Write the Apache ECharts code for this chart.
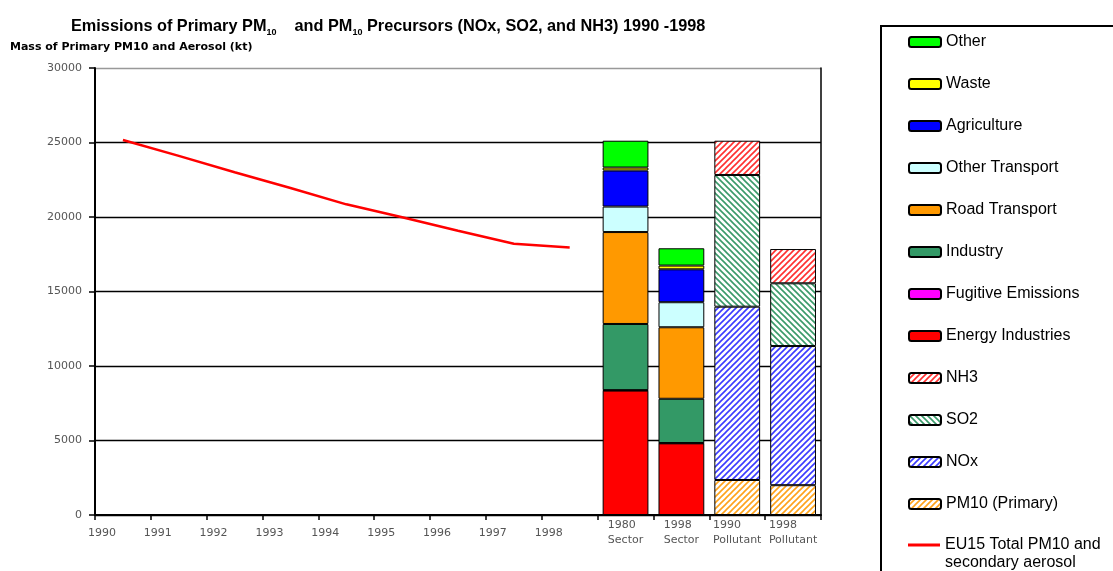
<!DOCTYPE html>
<html><head><meta charset="utf-8">
<script src="https://cdn.jsdelivr.net/npm/echarts/dist/echarts.min.js"></script>
<style>html,body{margin:0;padding:0;background:#fff}#c{width:1113px;height:571px}</style>
</head><body><div id="c"></div>
<script>
// ---------- data ----------
const categories = ['1990','1991','1992','1993','1994','1995','1996','1997','1998',
  '1980\nSector','1998\nSector','1990\nPollutant','1998\nPollutant'];
const yTicks = [0, 5000, 10000, 15000, 20000, 25000, 30000];
// EU15 total PM10 and secondary aerosol, 1990..1998 (kt)
const totalLine = [25170, 24100, 23000, 21950, 20850, 19980, 19080, 18200, 17950];
// Sector bars: [1990 Sector, 1998 Sector]
const energyIndustries = [8350, 4810];
const fugitiveEmissions = [30, 20];
const industry = [4440, 2970];
const roadTransport = [6170, 4800];
const otherTransport = [1710, 1680];
const agriculture = [2420, 2210];
const waste = [200, 250];
const other = [1800, 1160];
// Pollutant bars: [1990 Pollutant, 1998 Pollutant]
const pm10Primary = [2350, 2000];
const nox = [11630, 9340];
const so2 = [8840, 4210];
const nh3 = [2300, 2300];

const lineName = 'EU15 Total PM10 and secondary aerosol';

// place two values at the given category offset
function place(vals, offset) {
  return categories.map((c, i) => (i >= offset && i < offset + vals.length) ? vals[i - offset] : null);
}
function hatch(color, dir) {
  const s = 6, c = document.createElement('canvas');
  c.width = s; c.height = s;
  const g = c.getContext('2d');
  g.fillStyle = '#fff'; g.fillRect(0, 0, s, s);
  g.strokeStyle = color; g.lineWidth = 1.6; g.beginPath();
  if (dir === '/') {
    g.moveTo(-1, s + 1); g.lineTo(s + 1, -1);
    g.moveTo(-1, 1); g.lineTo(1, -1);
    g.moveTo(s - 1, s + 1); g.lineTo(s + 1, s - 1);
  } else {
    g.moveTo(-1, -1); g.lineTo(s + 1, s + 1);
    g.moveTo(s - 1, -1); g.lineTo(s + 1, 1);
    g.moveTo(-1, s - 1); g.lineTo(1, s + 1);
  }
  g.stroke();
  return { image: c, repeat: 'repeat' };
}

const SECTOR = 9, POLL = 11;
const barDefs = [
  ['Energy Industries', energyIndustries, SECTOR, '#ff0000'],
  ['Fugitive Emissions', fugitiveEmissions, SECTOR, '#ff00ff'],
  ['Industry', industry, SECTOR, '#339966'],
  ['Road Transport', roadTransport, SECTOR, '#ff9900'],
  ['Other Transport', otherTransport, SECTOR, '#ccffff'],
  ['Agriculture', agriculture, SECTOR, '#0000ff'],
  ['Waste', waste, SECTOR, '#ffff00'],
  ['Other', other, SECTOR, '#00ff00'],
  ['PM10 (Primary)', pm10Primary, POLL, hatch('#ffa31a', '/')],
  ['NOx', nox, POLL, hatch('#3b3bff', '/')],
  ['SO2', so2, POLL, hatch('#3a9a6a', '\\')],
  ['NH3', nh3, POLL, hatch('#ff3030', '/')]
];

const series = barDefs.map(d => ({
  name: d[0], type: 'bar', stack: 'total', barCategoryGap: '18%',
  data: place(d[1], d[2]),
  itemStyle: { color: d[3], borderColor: '#000', borderWidth: 1 },
  emphasis: { disabled: true }
}));
series.push({
  name: lineName, type: 'line', data: place(totalLine, 0), symbol: 'none',
  lineStyle: { color: '#ff0000', width: 2.5 }, itemStyle: { color: '#ff0000' },
  z: 5, emphasis: { disabled: true }
});

const font = 'DejaVu Sans';
const legendFont = { fontFamily: 'Liberation Sans', fontSize: 16, color: '#000', lineHeight: 18 };
const chart = echarts.init(document.getElementById('c'), null, { renderer: 'canvas' });
chart.setOption({
  animation: false,
  backgroundColor: '#fff',
  title: [{
    text: '{t|Emissions of Primary PM}{s|10}{t|    and PM}{s|10}{t| Precursors (NOx, SO2, and NH3) 1990 -1998}',
    left: 71, top: 17, padding: 0,
    textStyle: { rich: {
      t: { fontFamily: 'Liberation Sans', fontSize: 16.3, fontWeight: 'bold', color: '#000', lineHeight: 20 },
      s: { fontFamily: 'Liberation Sans', fontSize: 9, fontWeight: 'bold', color: '#000', lineHeight: 12, verticalAlign: 'bottom' }
    } }
  }, {
    text: 'Mass of Primary PM10 and Aerosol (kt)', left: 10, top: 42, padding: 0,
    textStyle: { fontFamily: font, fontSize: 11, fontWeight: 'bold', color: '#000' }
  }],
  legend: [{
    orient: 'vertical', left: 908, top: 33, padding: 0, height: 700,
    itemWidth: 32, itemHeight: 10, itemGap: 24, selectedMode: false,
    textStyle: legendFont,
    data: ['Other', 'Waste', 'Agriculture', 'Other Transport', 'Road Transport', 'Industry',
      'Fugitive Emissions', 'Energy Industries', 'NH3', 'SO2', 'NOx', 'PM10 (Primary)']
  }, {
    orient: 'vertical', left: 908, top: 518, padding: 0, height: 200,
    itemWidth: 32, itemHeight: 3, icon: 'rect', selectedMode: false,
    textStyle: legendFont,
    formatter: () => ' \nEU15 Total PM10 and\nsecondary aerosol',
    data: [{ name: lineName, itemStyle: { color: '#ff0000', borderWidth: 0 } }]
  }],
  graphic: [{
    type: 'rect', silent: true,
    shape: { x: 881, y: 26, width: 300, height: 600 },
    style: { fill: 'none', stroke: '#000', lineWidth: 2 }
  }],
  grid: { left: 95, right: 292, top: 68, bottom: 56 },
  xAxis: {
    type: 'category', data: categories, boundaryGap: true,
    axisLine: { lineStyle: { color: '#000', width: 2 } },
    axisTick: { show: true, interval: 0, length: 5, lineStyle: { color: '#000', width: 1.5 } },
    axisLabel: {
      interval: 0, margin: 3, hideOverlap: false,
      formatter: v => v.indexOf('\n') < 0 ? '{y|' + v + '}' : v.split('\n').map(s => '{b|' + s + '}').join('\n'),
      rich: {
        y: { fontFamily: font, fontSize: 11, color: '#555', lineHeight: 15, padding: [15, 42, 0, 0] },
        b: { fontFamily: font, fontSize: 11, color: '#555', lineHeight: 15, align: 'left' }
      }
    }
  },
  yAxis: [{
    type: 'value', min: yTicks[0], max: yTicks[yTicks.length - 1], interval: yTicks[1] - yTicks[0],
    axisLine: { show: true, lineStyle: { color: '#000', width: 2 } },
    axisTick: { show: true, length: 6, lineStyle: { color: '#000', width: 1.5 } },
    axisLabel: { margin: 13, fontFamily: font, fontSize: 11, color: '#555', formatter: v => String(v) },
    splitLine: { show: true, lineStyle: { color: ['#000', '#000', '#000', '#000', '#000', '#000', '#999'], width: 1.3 } }
  }, {
    type: 'value', position: 'right', min: yTicks[0], max: yTicks[yTicks.length - 1],
    axisLine: { show: true, lineStyle: { color: '#000', width: 1.5 } },
    axisTick: { show: false }, axisLabel: { show: false }, splitLine: { show: false }
  }],
  series: series
});
</script></body></html>
